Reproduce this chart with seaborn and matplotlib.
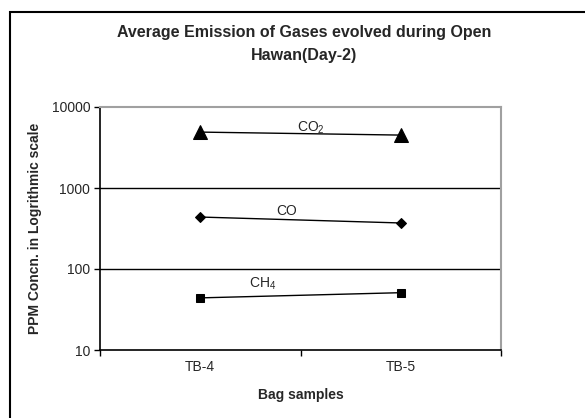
import numpy as np
import pandas as pd
import matplotlib
matplotlib.use('Agg')
import matplotlib.pyplot as plt
import matplotlib.patches as patches
import seaborn as sns

# Data
samples = ['TB-4', 'TB-5']
co2 = [4900, 4500]
co = [438, 370]
ch4 = [44, 51]

sns.set_style('white')
plt.rcParams['font.family'] = ['Liberation Sans', 'DejaVu Sans']
plt.rcParams['mathtext.fontset'] = 'custom'
plt.rcParams['mathtext.rm'] = 'Liberation Sans'
plt.rcParams['mathtext.it'] = 'Liberation Sans'

df = pd.DataFrame({'sample': samples * 3,
                   'pos': [0, 1] * 3,
                   'ppm': co2 + co + ch4,
                   'gas': ['CO2'] * 2 + ['CO'] * 2 + ['CH4'] * 2})

fig = plt.figure(figsize=(5.85, 4.18), dpi=100)
ax = fig.add_axes([100 / 585, 1 - 350 / 418, 401 / 585, 243 / 418])

# gridlines at decades
for v in [100, 1000]:
    ax.axhline(v, color='black', lw=1.0, zorder=1)

styles = {'CO2': ('^', 10), 'CO': ('D', 5), 'CH4': ('s', 6)}
for gas, (m, ms) in styles.items():
    sub = df[df['gas'] == gas]
    sns.lineplot(data=sub, x='pos', y='ppm', ax=ax, color='black', lw=1.0,
                 marker=m, markersize=ms, markeredgecolor='black', zorder=3)

ax.set_yscale('log')
ax.set_ylim(10, 10000)
ax.set_xlim(-0.5, 1.5)

ax.set_yticks([10, 100, 1000, 10000])
ax.set_yticklabels(['10', '100', '1000', '10000'], fontsize=10)
ax.yaxis.set_minor_locator(matplotlib.ticker.NullLocator())
ax.tick_params(axis='y', which='major', direction='out', length=4, width=1,
               left=True, color='black', pad=3)

ax.set_xticks([0, 1])
ax.set_xticklabels(samples, fontsize=10)
ax.set_xticks([-0.5, 0.5, 1.5], minor=True)
ax.tick_params(axis='x', which='major', length=0, pad=7)
ax.tick_params(axis='x', which='minor', direction='out', length=4, width=1,
               bottom=True, color='black')

for side in ['left', 'bottom']:
    ax.spines[side].set_color('black')
    ax.spines[side].set_linewidth(1.2)
for side in ['top', 'right']:
    ax.spines[side].set_color('#a0a0a0')
    ax.spines[side].set_linewidth(1.5)

ax.set_xlabel('Bag samples', fontsize=10, fontweight='bold', labelpad=10)
ax.set_ylabel('PPM Concn. in Logrithmic scale', fontsize=10, fontweight='bold',
              labelpad=12)
ax.yaxis.set_label_coords(-0.145, 0.5)

# series labels
ax.text(0.55, 5600, 'CO$_2$', fontsize=10, ha='center', va='center')
ax.text(0.43, 520, 'CO', fontsize=10, ha='center', va='center')
ax.text(0.31, 65, 'CH$_4$', fontsize=10, ha='center', va='center')

fig.text(0.52, 1 - 44 / 418, 'Average Emission of Gases evolved during Open\nHawan(Day-2)',
         ha='center', va='center', fontsize=11.5, fontweight='bold', linespacing=1.6)

# outer chart frame (runs off right and bottom edges)
frame = patches.Rectangle((10 / 585, -0.5), 2, 0.5 + 1 - 12 / 418,
                          transform=fig.transFigure, fill=False,
                          edgecolor='black', lw=1.5)
fig.patches.append(frame)

fig.savefig('out.png', dpi=100)
